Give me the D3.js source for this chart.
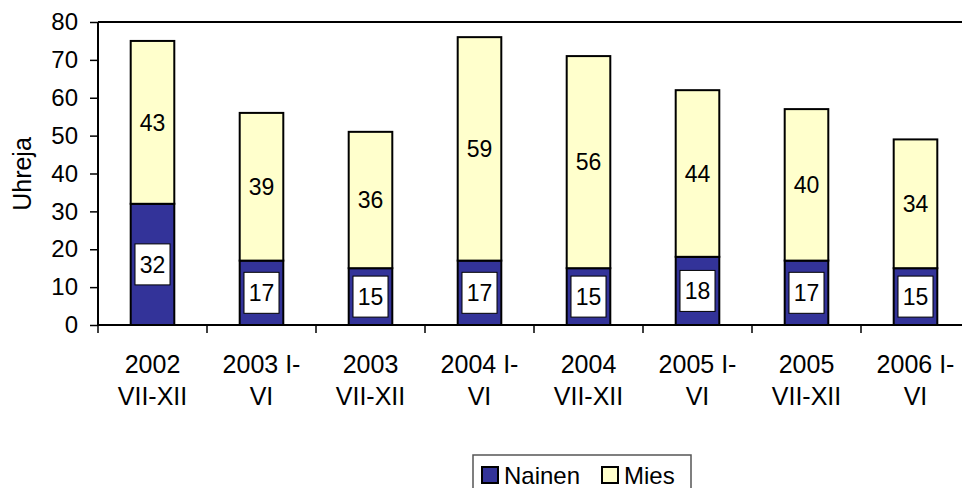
<!DOCTYPE html>
<html><head><meta charset="utf-8">
<script src="https://cdn.jsdelivr.net/npm/d3@7/dist/d3.min.js"></script>
<style>body{margin:0;background:#fff}svg{display:block;font-family:"Liberation Sans",Arial,sans-serif}</style>
</head><body><svg id="c" width="962" height="488"></svg>
<script>
const categories = [["2002","VII-XII"],["2003 I-","VI"],["2003","VII-XII"],["2004 I-","VI"],["2004","VII-XII"],["2005 I-","VI"],["2005","VII-XII"],["2006 I-","VI"]];
const nainen = [32,17,15,17,15,18,17,15];
const mies = [43,39,36,59,56,44,40,34];
const yTicks = [0,10,20,30,40,50,60,70,80];
const seriesNames = ["Nainen","Mies"];
const colors = ["#333399","#FFFFCC"];

(function(){
const svg = d3.select("#c");
const pL = 98, pT = 22, pB = 325, pR = 970;
const idx = categories.map((d,i)=>i);
const x = d3.scaleBand().domain(idx).range([pL,pR]).paddingInner(0.6).paddingOuter(0.3);
const xb = d3.scaleBand().domain(idx).range([pL,pR]);
const y = d3.scaleLinear().domain([0,80]).range([pB,pT]);
const fsData = 23, fsTick = 24, fsX = 25, fsLeg = 24;

svg.append("line").attr("x1",pL).attr("x2",962).attr("y1",pT).attr("y2",pT).attr("stroke","#000").attr("stroke-width",2);

const g = svg.append("g");
idx.forEach(i=>{
  const bx = x(i), bw = x.bandwidth();
  g.append("rect").attr("x",bx).attr("y",y(nainen[i])).attr("width",bw).attr("height",y(0)-y(nainen[i]))
    .attr("fill",colors[0]).attr("stroke","#000").attr("stroke-width",2);
  g.append("rect").attr("x",bx).attr("y",y(nainen[i]+mies[i])).attr("width",bw).attr("height",y(nainen[i])-y(nainen[i]+mies[i]))
    .attr("fill",colors[1]).attr("stroke","#000").attr("stroke-width",2);
  const cx = bx+bw/2;
  const cyN = (y(0)+y(nainen[i]))/2;
  g.append("rect").attr("x",cx-17.5).attr("y",cyN-20.5).attr("width",35).attr("height",41).attr("fill","#fff").attr("stroke","#000").attr("stroke-width",1);
  g.append("text").attr("x",cx).attr("y",cyN).attr("dy","0.36em").attr("text-anchor","middle").attr("font-size",fsData).text(nainen[i]);
  const cyM = (y(nainen[i])+y(nainen[i]+mies[i]))/2;
  g.append("text").attr("x",cx).attr("y",cyM).attr("dy","0.36em").attr("text-anchor","middle").attr("font-size",fsData).text(mies[i]);
});

const ya = svg.append("g").attr("transform",`translate(${pL},0)`)
  .call(d3.axisLeft(y).tickValues(yTicks).tickSize(8).tickPadding(12));
ya.select(".domain").attr("stroke-width",2).attr("d",`M0,${pB}V${pT}`);
ya.selectAll(".tick line").attr("stroke-width",1.5);
ya.selectAll("text").attr("font-size",fsTick).attr("fill","#000").attr("font-family","Liberation Sans, Arial, sans-serif");

const xa = svg.append("g").attr("transform",`translate(0,${pB})`);
xa.append("line").attr("x1",pL).attr("x2",962).attr("stroke","#000").attr("stroke-width",2);
d3.range(0,9).forEach(k=>{
  const tx = pL + k*xb.step();
  xa.append("line").attr("x1",tx).attr("x2",tx).attr("y1",0).attr("y2",8).attr("stroke","#000").attr("stroke-width",1.5);
});
idx.forEach(i=>{
  const cx = x(i)+x.bandwidth()/2;
  const t = xa.append("text").attr("text-anchor","middle").attr("font-size",fsX);
  t.append("tspan").attr("x",cx).attr("y",48).text(categories[i][0]);
  t.append("tspan").attr("x",cx).attr("y",80).text(categories[i][1]);
});

svg.append("text").attr("transform","translate(31,174) rotate(-90)").attr("text-anchor","middle").attr("font-size",25).text("Uhreja");

const lg = svg.append("g").attr("transform","translate(473,455)");
lg.append("rect").attr("x",0).attr("y",0).attr("width",218).attr("height",40).attr("fill","#fff").attr("stroke","#555").attr("stroke-width",1.5);
const lx = [9,129];
seriesNames.forEach((s,k)=>{
  lg.append("rect").attr("x",lx[k]).attr("y",12).attr("width",16).attr("height",16).attr("fill",colors[k]).attr("stroke","#000").attr("stroke-width",2);
  lg.append("text").attr("x",lx[k]+22).attr("y",20).attr("dy","0.36em").attr("font-size",fsLeg).text(s);
});
})();
</script></body></html>
